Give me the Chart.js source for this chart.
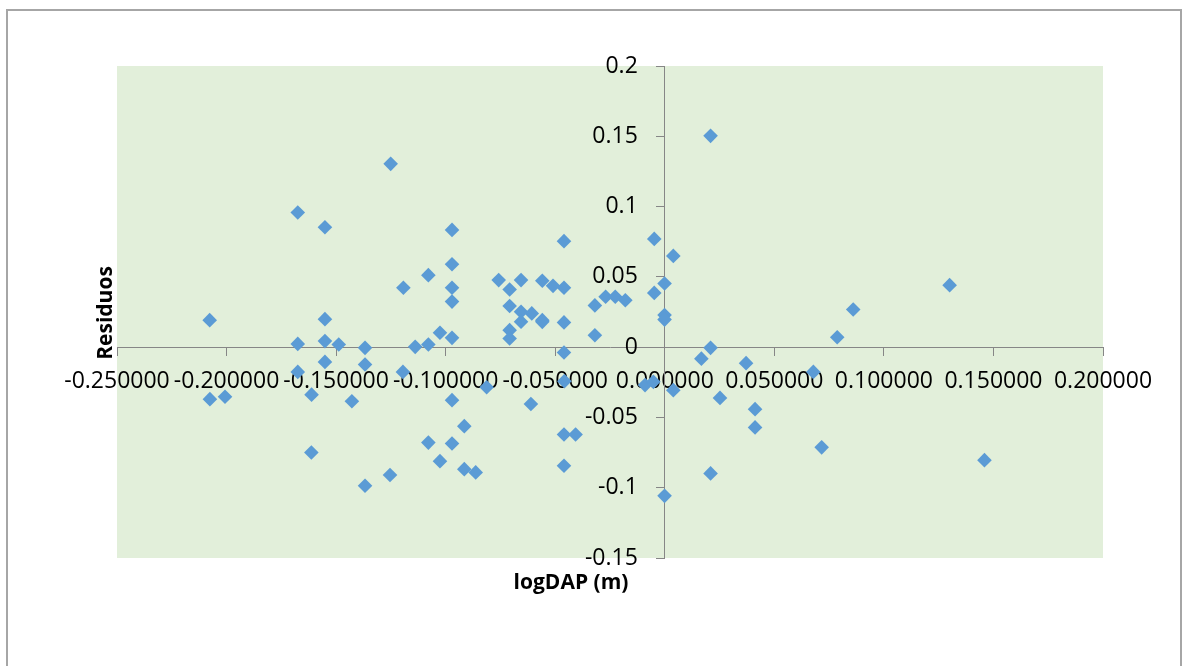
<!DOCTYPE html>
<html lang="es">
<head>
    <meta charset="UTF-8">
    <title>Residuos vs logDAP</title>
    <script src="https://cdn.jsdelivr.net/npm/chart.js"></script>
</head>
<style>
    body { margin: 0; background: white; }
    .wrap { position: relative; width: 1186px; height: 666px; overflow: hidden; }
    .frame {
        position: absolute; left: 6px; top: 9px;
        width: 1172px; height: 700px;
        border: 2px solid #a6a6a6;
    }
    #residChart { position: absolute; left: 0; top: 0; }
</style>
<body>
<div class="wrap">
    <div class="frame"></div>
    <canvas id="residChart" width="1186" height="666"></canvas>
</div>
<script>
    // logDAP (m) values
    const logDAP = [
        -0.2077, -0.2076, -0.2007, -0.1675, -0.1675, -0.1675, -0.1612, -0.1613, -0.1551, -0.1551,
        -0.1551, -0.1551, -0.1488, -0.1428, -0.1368, -0.1368, -0.1368, -0.1251, -0.1254, -0.1193,
        -0.1195, -0.1139, -0.1079, -0.1079, -0.1079, -0.1026, -0.1026, -0.0971, -0.0971, -0.0971,
        -0.0971, -0.0971, -0.0971, -0.0971, -0.0915, -0.0915, -0.0863, -0.0813, -0.0758, -0.0708,
        -0.0708, -0.0708, -0.0708, -0.0656, -0.0656, -0.0656, -0.0607, -0.0611, -0.0559, -0.0559,
        -0.0559, -0.0510, -0.0460, -0.0460, -0.0460, -0.0460, -0.0458, -0.0460, -0.0460, -0.0407,
        -0.0319, -0.0319, -0.0270, -0.0226, -0.0180, -0.0090, -0.0048, -0.0048, -0.0052, -0.0001,
        -0.0001, -0.0001, -0.0001, 0.0039, 0.0039, 0.0167, 0.0209, 0.0209, 0.0209, 0.0252,
        0.0371, 0.0412, 0.0412, 0.0678, 0.0716, 0.0787, 0.0860, 0.1300, 0.1459
    ];
    // residuos
    const residuos = [
        0.0192, -0.0370, -0.0353, 0.0958, 0.0023, -0.0176, -0.0338, -0.0749, 0.0853, 0.0199,
        0.0043, -0.0105, 0.0019, -0.0385, -0.0005, -0.0124, -0.0986, 0.1304, -0.0910, 0.0422,
        -0.0176, 0.0002, 0.0512, 0.0019, -0.0679, 0.0102, -0.0811, 0.0834, 0.0590, 0.0422,
        0.0324, 0.0066, -0.0377, -0.0685, -0.0562, -0.0868, -0.0891, -0.0285, 0.0477, 0.0410,
        0.0293, 0.0121, 0.0062, 0.0477, 0.0252, 0.0181, 0.0240, -0.0405, 0.0472, 0.0192,
        0.0180, 0.0436, 0.0754, 0.0422, 0.0176, -0.0038, -0.0242, -0.0621, -0.0844, -0.0621,
        0.0297, 0.0085, 0.0358, 0.0358, 0.0334, -0.0270, 0.0770, 0.0386, -0.0247, 0.0453,
        0.0228, 0.0196, -0.1058, 0.0649, -0.0306, -0.0082, 0.1503, -0.0005, -0.0898, -0.0361,
        -0.0114, -0.0441, -0.0571, -0.0176, -0.0713, 0.0070, 0.0268, 0.0441, -0.0804
    ];
    const xTickLabels = ['-0.250000', '-0.200000', '-0.150000', '-0.100000', '-0.050000',
        '0.000000', '0.050000', '0.100000', '0.150000', '0.200000'];
    const yTickLabels = ['-0.15', '-0.1', '-0.05', '0', '0.05', '0.1', '0.15', '0.2'];

    const points = logDAP.map((x, i) => ({ x: x, y: residuos[i] }));

    const plotBackground = {
        id: 'plotBackground',
        beforeDraw(chart) {
            const { ctx, chartArea: a } = chart;
            ctx.save();
            ctx.fillStyle = '#e2efda';
            ctx.fillRect(a.left, a.top, a.right - a.left, a.bottom - a.top);
            ctx.restore();
        }
    };

    // centred y axis ignores ticks.padding, so move its labels left by hand
    const yLabelGap = {
        id: 'yLabelGap',
        beforeDraw(chart) {
            const items = chart.scales.y.getLabelItems();
            if (items._shifted) return;
            items.forEach(it => { it.options.translation[0] -= 27; });
            items._shifted = true;
        }
    };

    const axisTitles = {
        id: 'axisTitles',
        afterDraw(chart) {
            const ctx = chart.ctx;
            ctx.save();
            ctx.fillStyle = '#000';
            ctx.font = 'bold 21px "Open Sans"';
            ctx.textAlign = 'center';
            ctx.textBaseline = 'middle';
            ctx.fillText('logDAP (m)', 571, 583);
            ctx.translate(106, 313);
            ctx.rotate(-Math.PI / 2);
            ctx.fillText('Residuos', 0, 0);
            ctx.restore();
        }
    };

    new Chart(document.getElementById('residChart'), {
        type: 'scatter',
        data: {
            datasets: [{
                label: 'Residuos',
                data: points,
                backgroundColor: '#5b9bd5',
                borderWidth: 0,
                pointStyle: 'rectRot',
                pointRadius: 7.3,
                pointHoverRadius: 7.3
            }]
        },
        options: {
            responsive: false,
            animation: false,
            layout: { padding: { left: 117, right: 83, top: 66, bottom: 108 } },
            plugins: {
                legend: { display: false },
                tooltip: { enabled: false }
            },
            scales: {
                x: {
                    type: 'linear',
                    position: { y: 0 },
                    min: -0.25,
                    max: 0.2,
                    ticks: {
                        stepSize: 0.05,
                        autoSkip: false,
                        maxRotation: 0,
                        minRotation: 0,
                        padding: 13,
                        color: '#000',
                        font: { family: 'Open Sans', size: 23 },
                        callback: (v, i) => xTickLabels[i]
                    },
                    grid: { drawOnChartArea: false, tickLength: 8, color: '#868686' },
                    border: { color: '#868686', width: 1 }
                },
                y: {
                    type: 'linear',
                    position: { x: 0 },
                    min: -0.15,
                    max: 0.2,
                    ticks: {
                        stepSize: 0.05,
                        color: '#000',
                        font: { family: 'Open Sans', size: 23 },
                        callback: (v, i) => yTickLabels[i]
                    },
                    grid: { drawOnChartArea: false, tickLength: 8, color: '#868686' },
                    border: { color: '#868686', width: 1 }
                }
            }
        },
        plugins: [plotBackground, yLabelGap, axisTitles]
    });
</script>
</body>
</html>
